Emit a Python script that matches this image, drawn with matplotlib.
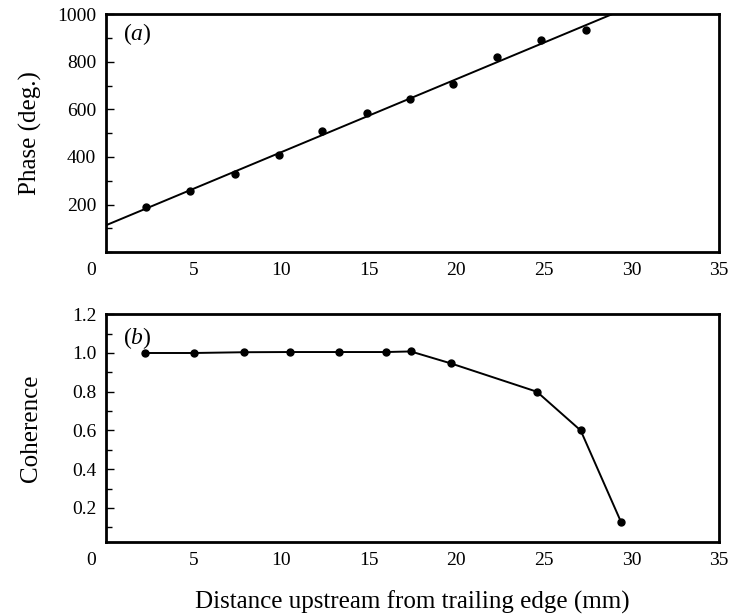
import matplotlib
matplotlib.use("Agg")
import matplotlib.pyplot as plt
import matplotlib.ticker as ticker
import matplotlib.transforms as mtransforms

plt.rcParams["font.family"] = ["Liberation Serif", "DejaVu Serif"]
plt.rcParams["mathtext.fontset"] = "custom"
plt.rcParams["mathtext.rm"] = "Liberation Serif"
plt.rcParams["mathtext.it"] = "Liberation Serif:italic"

# (a) fase medida e ajuste linear
dist_fase = [2.3, 4.8, 7.35, 9.85, 12.35, 14.9, 17.35, 19.8, 22.35, 24.85, 27.4]
fase = [190, 256, 330, 407, 507, 585, 645, 707, 821, 892, 934]
ajuste_x = [0, 28.9]
ajuste_y = [113, 1000]

# (b) coerência
dist_coer = [2.2, 5.0, 7.9, 10.5, 13.3, 16.0, 17.4, 19.7, 24.6, 27.1, 29.4]
coer = [1.0, 1.0, 1.004, 1.005, 1.005, 1.005, 1.008, 0.946, 0.80, 0.60, 0.128]

x_ticks = [0, 5, 10, 15, 20, 25, 30, 35]

fig = plt.figure(figsize=(7.36, 6.15), dpi=100)
ax1 = fig.add_axes([0.144, 0.590, 0.833, 0.387])
ax2 = fig.add_axes([0.144, 0.119, 0.833, 0.370])

ax1.plot(ajuste_x, ajuste_y, color="black", linewidth=1.4)
ax1.plot(dist_fase, fase, "o", color="black", markersize=5)
ax1.set_ylim(0, 1000)
ax1.set_yticks([200, 400, 600, 800, 1000])
ax1.yaxis.set_minor_locator(ticker.MultipleLocator(100))
ax1.set_ylabel("Phase (deg.)", fontsize=18)
ax1.text(0.028, 0.915, r"($\mathit{a}$)", transform=ax1.transAxes,
         fontsize=17, va="center", ha="left")

ax2.plot(dist_coer, coer, "-o", color="black", linewidth=1.4, markersize=5)
ax2.set_ylim(0.025, 1.2)
ax2.set_yticks([0.2, 0.4, 0.6, 0.8, 1.0, 1.2])
ax2.yaxis.set_major_formatter(ticker.FormatStrFormatter("%.1f"))
ax2.yaxis.set_minor_locator(ticker.FixedLocator([0.1, 0.3, 0.5, 0.7, 0.9, 1.1]))
ax2.set_ylabel("Coherence", fontsize=18)
ax2.set_xlabel("Distance upstream from trailing edge (mm)", fontsize=18, labelpad=16)
ax2.text(0.028, 0.895, r"($\mathit{b}$)", transform=ax2.transAxes,
         fontsize=17, va="center", ha="left")

for ax in (ax1, ax2):
    ax.set_xlim(0, 35)
    ax.set_xticks(x_ticks)
    ax.tick_params(axis="x", length=0, pad=7, labelsize=14)
    ax.tick_params(axis="y", which="major", direction="in", length=6, width=1,
                   pad=7, labelsize=14)
    ax.tick_params(axis="y", which="minor", direction="in", length=4, width=1)
    ax.yaxis.set_label_coords(-0.105, 0.5)
    for s in ax.spines.values():
        s.set_linewidth(2)
    # o rótulo "0" fica deslocado para a esquerda no original
    fig.canvas.draw()
    lbl = ax.get_xticklabels()[0]
    lbl.set_transform(lbl.get_transform() +
                      mtransforms.ScaledTranslation(-0.15, 0, fig.dpi_scale_trans))

fig.savefig("out.png", dpi=100)
